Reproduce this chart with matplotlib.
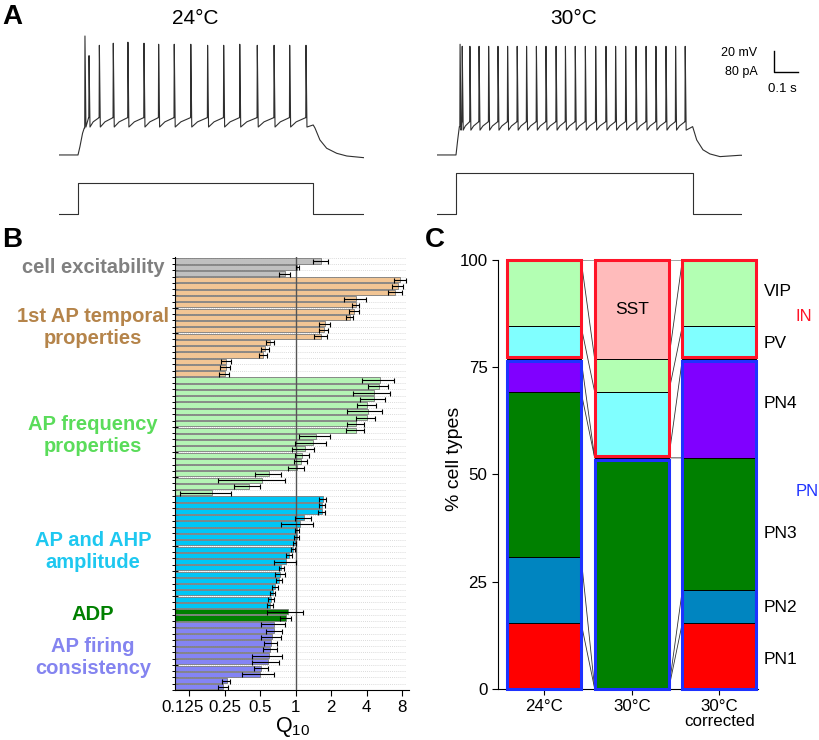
import matplotlib
matplotlib.use('Agg')
import matplotlib.pyplot as plt
from matplotlib.patches import Rectangle
from matplotlib.transforms import ScaledTranslation
import numpy as np

plt.rcParams['font.family'] = ['Liberation Sans', 'DejaVu Sans']
plt.rcParams['mathtext.fontset'] = 'custom'
plt.rcParams['mathtext.rm'] = 'Liberation Sans'
plt.rcParams['mathtext.it'] = 'Liberation Sans:italic'

# ---------------- data ----------------
# Panel A: spike times (s from step onset) and peak voltages (mV)
left_spike_t = [0.029, 0.046, 0.089, 0.147, 0.208, 0.275, 0.336, 0.401, 0.470, 0.540,
                0.607, 0.674, 0.747, 0.817, 0.882, 0.950]
left_spike_peak = [45, 26, 36, 38, 39, 38, 37, 37, 37, 36, 36, 37, 36, 36, 36, 36]
left_onset_t = [0.0, 0.008, 0.019, 0.026]
left_onset_v = [-70, -62, -49, -44]
left_off_t = [0.980, 0.9875, 1.008, 1.036, 1.078, 1.12, 1.19]
left_off_v = [-41, -44, -55.5, -63.5, -68.4, -71, -72.6]
left_levels = (-43, -38, -34)      # trough, mid, pre-spike
left_step_pA = 120
left_step_end = 0.980

right_spike_t = [0.017, 0.026, 0.058, 0.096, 0.136, 0.175, 0.215, 0.255, 0.294, 0.335,
                 0.375, 0.417, 0.456, 0.497, 0.539, 0.582, 0.625, 0.665, 0.707, 0.750,
                 0.792, 0.833, 0.875, 0.915, 0.955]
right_spike_peak = [37, 35, 35, 35, 35, 35, 35, 35, 35, 35, 35, 35, 35, 35, 35, 35, 35,
                    35, 35, 35, 35, 35, 35, 35, 35]
right_onset_t = [0.0, 0.007, 0.014]
right_onset_v = [-70, -55.5, -42.6]
right_off_t = [0.986, 1.003, 1.029, 1.058, 1.10, 1.183]
right_off_v = [-42.6, -55.5, -65, -69, -71.6, -70.3]
right_levels = (-46, -42, -38)
right_step_pA = 160
right_step_end = 0.986
baseline_mV = -70

# Panel B: Q10 values (mean) and SE
excit_vals = [1.65, 1.03, 0.81]
excit_se = [0.24, 0.03, 0.09]
temporal_vals = [7.72, 7.33, 7.0, 3.27, 3.22, 3.12, 2.87, 1.77, 1.73, 1.63, 0.61, 0.55,
                 0.53, 0.259, 0.255, 0.25]
temporal_se = [0.9, 0.75, 1.0, 0.68, 0.22, 0.3, 0.2, 0.2, 0.15, 0.2, 0.05, 0.04, 0.04,
               0.025, 0.025, 0.025]
freq_vals = [5.22, 5.06, 4.64, 4.59, 4.05, 4.06, 4.0, 3.25, 3.25, 1.50, 1.40, 1.19, 1.14,
             1.10, 1.02, 0.60, 0.52, 0.40, 0.195]
freq_se = [1.55, 0.95, 1.6, 1.1, 0.74, 1.33, 0.74, 0.52, 0.56, 0.44, 0.42, 0.25, 0.15,
           0.14, 0.15, 0.15, 0.30, 0.10, 0.09]
amp_vals = [1.69, 1.68, 1.66, 1.17, 1.08, 1.02, 1.02, 0.98, 0.95, 0.88, 0.83, 0.755, 0.74,
            0.72, 0.67, 0.64, 0.62, 0.61]
amp_se = [0.12, 0.11, 0.12, 0.19, 0.33, 0.04, 0.05, 0.03, 0.03, 0.05, 0.17, 0.035, 0.07,
          0.04, 0.035, 0.03, 0.04, 0.035]
adp_vals = [0.86, 0.83]
adp_se = [0.29, 0.09]
consist_vals = [0.66, 0.66, 0.63, 0.62, 0.61, 0.60, 0.58, 0.51, 0.50, 0.26, 0.245]
consist_se = [0.15, 0.10, 0.12, 0.08, 0.08, 0.17, 0.15, 0.07, 0.15, 0.02, 0.025]

group_names = ['cell excitability', '1st AP temporal\nproperties', 'AP frequency\nproperties',
               'AP and AHP\namplitude', 'ADP', 'AP firing\nconsistency']
group_colors = ['#C0C0C0', '#F2C594', '#B4F4B4', '#00C6F6', '#008000', '#8484F4']
group_text_colors = ['#808080', '#B5844A', '#5ADC5A', '#1EC8F0', '#008000', '#8484F0']
q10_ticks = [0.125, 0.25, 0.5, 1, 2, 4, 8]
q10_ticklabels = ['0.125', '0.25', '0.5', '1', '2', '4', '8']

# Panel C: % cell types
cell_types = ['PN1', 'PN2', 'PN3', 'PN4', 'PV', 'VIP', 'SST']
cell_colors = ['#FF0000', '#0085C0', '#008000', '#8000FF', '#80FFFF', '#B3FFB3', '#FFBBBB']
conditions = ['24°C', '30°C', '30°C\ncorrected']
pct_24 = [15.38, 15.38, 38.46, 7.69, 7.69, 15.38, 0.0]
pct_30 = [0.0, 0.0, 53.85, 0.0, 15.38, 7.69, 23.08]
pct_30c = [15.38, 7.69, 30.77, 23.08, 7.69, 15.38, 0.0]
n_pn_types = 4

# ---------------- figure ----------------
W, H = 820, 740
fig = plt.figure(figsize=(W / 100, H / 100), dpi=100)


def px_axes(x0, y0, x1, y1):
    return fig.add_axes([x0 / W, 1 - y1 / H, (x1 - x0) / W, (y1 - y0) / H])


def ftext(x, y, s, **kw):
    fig.text(x / W, 1 - y / H, s, **kw)


# ---------------- Panel A ----------------
def build_trace(onset_t, onset_v, spike_t, spike_peak, levels, off_t, off_v, tmin, tmax):
    trough, mid, pre = levels
    ts = [tmin] + list(onset_t)
    vs = [baseline_mV] + list(onset_v)
    for i, (t, p) in enumerate(zip(spike_t, spike_peak)):
        ts.append(t - 0.001); vs.append(vs[-1] if i == 0 else pre)
        ts.append(t); vs.append(p)
        ts.append(t + 0.004); vs.append(trough)
        if i + 1 < len(spike_t):
            nxt = spike_t[i + 1]
            isi = nxt - t
            if isi > 0.03:
                ts.append(t + 0.4 * isi); vs.append(mid)
            ts.append(nxt - 0.002); vs.append(pre)
    ts += list(off_t)
    vs += list(off_v)
    ts.append(tmax); vs.append(off_v[-1])
    return ts, vs


tmin, tmax = -0.08, 1.19
vlim = (-79.7, 50.8)
ilim = (-42.5, 189)
trace_col = '#303030'

for (x_on, onset_t, onset_v, spike_t, spike_peak, levels, off_t, off_v, step_pA, step_end, title) in [
        (78, left_onset_t, left_onset_v, left_spike_t, left_spike_peak, left_levels,
         left_off_t, left_off_v, left_step_pA, left_step_end, '24°C'),
        (456, right_onset_t, right_onset_v, right_spike_t, right_spike_peak, right_levels,
         right_off_t, right_off_v, right_step_pA, right_step_end, '30°C')]:
    x0 = x_on + tmin * 240
    x1 = x_on + tmax * 240
    axv = px_axes(x0, 30, x1, 165)
    ts, vs = build_trace(onset_t, onset_v, spike_t, spike_peak, levels, off_t, off_v, tmin, tmax)
    axv.plot(ts, vs, color=trace_col, lw=0.8)
    axv.set_xlim(tmin, tmax)
    axv.set_ylim(*vlim)
    axv.axis('off')
    axi = px_axes(x0, 165, x1, 225)
    axi.plot([tmin, 0, 0, step_end, step_end, tmax], [0, 0, step_pA, step_pA, 0, 0],
             color=trace_col, lw=0.8)
    axi.set_xlim(tmin, tmax)
    axi.set_ylim(*ilim)
    axi.axis('off')
    ftext(x_on + 0.49 * 240, 18, title, ha='center', va='center', fontsize=15)
    last_axv = axv

# scale bar on right trace
sb_t = 1.326
last_axv.plot([sb_t, sb_t, sb_t + 0.1], [30.5, 10.5, 10.5], color='black', lw=1.0, clip_on=False)
last_axv.text(1.256, 28.6, '20 mV', ha='right', va='center', fontsize=9)
last_axv.text(1.256, 10.2, '80 pA', ha='right', va='center', fontsize=9)
last_axv.text(1.302, -6.2, '0.1 s', ha='left', va='center', fontsize=9.5)

# ---------------- Panel B ----------------
axb = px_axes(175, 257.3, 409.3, 690)
groups_vals = [excit_vals, temporal_vals, freq_vals, amp_vals, adp_vals, consist_vals]
groups_se = [excit_se, temporal_se, freq_se, amp_se, adp_se, consist_se]
xmin_b, xmax_b = 0.0952, 9.17
axb.set_xscale('log', base=2)
axb.set_xlim(xmin_b, xmax_b)
n_total = sum(len(v) for v in groups_vals)
axb.set_ylim(n_total - 0.52, -0.59)
axb.hlines(np.arange(n_total + 1) - 0.5, xmin_b, 8.6, colors='#CFCFCF', linestyles=(0, (1, 1.5)),
           lw=0.6, zorder=0)
label_y = [267.5, 327, 435, 551, 615, 657.5]
pos = 0
for vals, se, col in zip(groups_vals, groups_se, group_colors):
    ys = np.arange(pos, pos + len(vals))
    vals = np.asarray(vals)
    axb.barh(ys, vals - xmin_b, left=xmin_b, height=0.82, color=col, edgecolor='#7a7a7a',
             linewidth=0.6, zorder=2)
    axb.errorbar(vals, ys, xerr=se, fmt='none', ecolor='black', elinewidth=0.8, capsize=1.8,
                 capthick=0.8, zorder=4)
    pos += len(vals)
axb.axvline(1, color='#555555', lw=1.0, zorder=3)
for name, tc, ly in zip(group_names, group_text_colors, label_y):
    ftext(93, ly, name, ha='center', va='center', fontsize=14.5, fontweight='bold', color=tc,
          linespacing=1.2)
axb.set_yticks(np.arange(n_total + 1) - 0.5)
axb.set_yticklabels([])
axb.tick_params(axis='y', direction='inout', length=4, width=0.7)
axb.set_xticks(q10_ticks)
axb.set_xticklabels(q10_ticklabels, fontsize=12.2)
axb.xaxis.set_minor_locator(matplotlib.ticker.NullLocator())
axb.tick_params(axis='x', direction='out', length=4, width=0.8, pad=3)
first_lbl = axb.get_xticklabels()[0]
first_lbl.set_transform(first_lbl.get_transform() + ScaledTranslation(-6 / 100, 0, fig.dpi_scale_trans))
axb.set_xlabel('Q$_{\\mathrm{10}}$', fontsize=15.5, labelpad=0)
for s in ['top', 'right']:
    axb.spines[s].set_visible(False)
axb.spines['left'].set_linewidth(0.8)
axb.spines['bottom'].set_linewidth(0.8)

# ---------------- Panel C ----------------
axc = px_axes(498, 260, 758, 688.7)
bw = 0.845
all_pct = [pct_24, pct_30, pct_30c]
cums = []
for i, pct in enumerate(all_pct):
    bottoms = np.concatenate([[0], np.cumsum(pct)])
    cums.append(bottoms)
    for k, (p, c) in enumerate(zip(pct, cell_colors)):
        if p > 0:
            axc.bar(i, p, bottom=bottoms[k], width=bw, color=c, edgecolor='black', lw=0.7,
                    zorder=2)
    split = bottoms[n_pn_types]
    axc.add_patch(Rectangle((i - bw / 2, 0), bw, split - 0.45, fill=False, ec='#1E32FF',
                            lw=2.2, zorder=4, clip_on=False))
    axc.add_patch(Rectangle((i - bw / 2, split + 0.45), bw, 100 - split - 0.45, fill=False,
                            ec='#FF1428', lw=2.2, zorder=4, clip_on=False))
for i in range(len(all_pct) - 1):
    for a, b in zip(cums[i], cums[i + 1]):
        axc.plot([i + bw / 2, i + 1 - bw / 2], [a, b], color='#333333', lw=0.6, zorder=1)
sst_idx = cell_types.index('SST')
axc.text(1, cums[1][sst_idx] + pct_30[sst_idx] / 2, 'SST', ha='center', va='center', fontsize=12.5)
axc.set_xlim(-0.525, 2.44)
axc.set_ylim(0, 100)
axc.set_yticks([0, 25, 50, 75, 100])
axc.set_yticklabels(['0', '25', '50', '75', '100'], fontsize=12.2)
axc.set_xticks(range(len(conditions)))
axc.set_xticklabels(conditions, fontsize=12.2, linespacing=0.95)
axc.tick_params(axis='both', direction='out', length=4, width=0.8)
axc.set_ylabel('% cell types', fontsize=14)
axc.yaxis.set_label_coords(-0.135, 0.535)
for s in ['top', 'right']:
    axc.spines[s].set_visible(False)
axc.spines['left'].set_linewidth(0.8)
axc.spines['bottom'].set_linewidth(0.8)

# right-side labels
label_px = {'VIP': 291.7, 'PV': 343, 'PN4': 403, 'PN3': 533, 'PN2': 607, 'PN1': 660}
for name, y in label_px.items():
    ftext(764, y, name, ha='left', va='center', fontsize=12.5)
ftext(796, 317, 'IN', ha='left', va='center', fontsize=12, color='#FF1428')
ftext(796, 492, 'PN', ha='left', va='center', fontsize=12, color='#1E32FF')

# panel letters
ftext(2, 17, 'A', ha='left', va='center', fontsize=20, fontweight='bold')
ftext(2, 240, 'B', ha='left', va='center', fontsize=20, fontweight='bold')
ftext(425, 240, 'C', ha='left', va='center', fontsize=20, fontweight='bold')

fig.savefig('out.png', dpi=100)
